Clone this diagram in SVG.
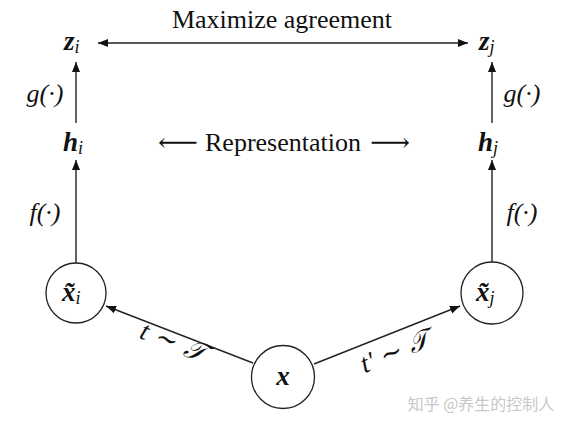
<svg xmlns="http://www.w3.org/2000/svg" width="571" height="428" viewBox="0 0 571 428">
<style>
.t{font-family:"Liberation Serif","DejaVu Serif",serif;fill:#111}
.m{font-family:"Liberation Serif","DejaVu Serif",serif;font-style:italic;fill:#111}
.v{font-family:"Liberation Serif","DejaVu Serif",serif;font-style:italic;font-weight:bold;fill:#111}
.s{font-family:"Liberation Serif","DejaVu Serif",serif;font-style:italic;fill:#111;font-size:18px}
.ln{stroke:#222;stroke-width:1.4;fill:none}
.c{stroke:#222;stroke-width:1.3;fill:#fff}
</style>
<defs>
<marker id="ah" viewBox="0 0 10 10" refX="10" refY="5" markerWidth="10" markerHeight="10" markerUnits="userSpaceOnUse" orient="auto">
<path d="M0,1 L10,5 L0,9 Z" fill="#111"/>
</marker>
</defs>
<rect width="571" height="428" fill="#fff"/>
<g id="connectors">
<line class="ln" x1="283" y1="43" x2="98" y2="43" marker-end="url(#ah)"/>
<line class="ln" x1="283" y1="43" x2="468" y2="43" marker-end="url(#ah)"/>
<line class="ln" x1="76" y1="123" x2="76" y2="62" marker-end="url(#ah)"/>
<line class="ln" x1="492" y1="123" x2="492" y2="62" marker-end="url(#ah)"/>
<line class="ln" x1="76" y1="263" x2="76" y2="160" marker-end="url(#ah)"/>
<line class="ln" x1="492" y1="262" x2="492" y2="160" marker-end="url(#ah)"/>
<line class="ln" x1="253" y1="363" x2="106" y2="306" marker-end="url(#ah)"/>
<line class="ln" x1="314" y1="364" x2="460" y2="306" marker-end="url(#ah)"/>
<text class="t" x="282" y="28" font-size="26" text-anchor="middle">Maximize agreement</text>
<text class="t" y="151" font-size="26"><tspan x="158" textLength="40" lengthAdjust="spacingAndGlyphs">⟵</tspan><tspan x="205">Representation</tspan><tspan x="370" textLength="40" lengthAdjust="spacingAndGlyphs">⟶</tspan></text>
<text class="m" x="45" y="102" font-size="26" text-anchor="middle">g(·)</text>
<text class="m" x="522" y="102" font-size="26" text-anchor="middle">g(·)</text>
<text class="m" x="45" y="221" font-size="26" text-anchor="middle">f(·)</text>
<text class="m" x="522" y="221" font-size="26" text-anchor="middle">f(·)</text>
<text class="m" font-size="27" text-anchor="middle" transform="translate(170,350) rotate(21.2)" textLength="68">t ∼ 𝒯</text>
<text class="m" font-size="27" text-anchor="middle" transform="translate(398,360) rotate(-21.7)" textLength="72">t' ∼ 𝒯</text>
</g>
<g id="zi"><text class="v" x="64" y="50" font-size="27">z<tspan class="s" font-weight="normal" dy="3">i</tspan></text></g>
<g id="zj"><text class="v" x="479" y="50" font-size="27">z<tspan class="s" font-weight="normal" dy="3">j</tspan></text></g>
<g id="hi"><text class="v" x="63" y="151" font-size="27">h<tspan class="s" font-weight="normal" dy="3">i</tspan></text></g>
<g id="hj"><text class="v" x="478" y="151" font-size="27">h<tspan class="s" font-weight="normal" dy="3">j</tspan></text></g>
<g id="xi"><circle class="c" cx="76" cy="293" r="30"/><text class="v" x="62" y="301" font-size="27">x̃<tspan class="s" font-weight="normal" dy="3">i</tspan></text></g>
<g id="xj"><circle class="c" cx="492" cy="293" r="31"/><text class="v" x="476" y="301" font-size="27">x̃<tspan class="s" font-weight="normal" dy="3">j</tspan></text></g>
<g id="x"><circle class="c" cx="283" cy="377" r="31.5"/><text class="v" x="283" y="385" font-size="27" text-anchor="middle">x</text></g>
<text x="481" y="410" font-size="16" text-anchor="middle" fill="#c8c8c8" font-family="'Noto Sans CJK SC',sans-serif">知乎 @养生的控制人</text>
</svg>
